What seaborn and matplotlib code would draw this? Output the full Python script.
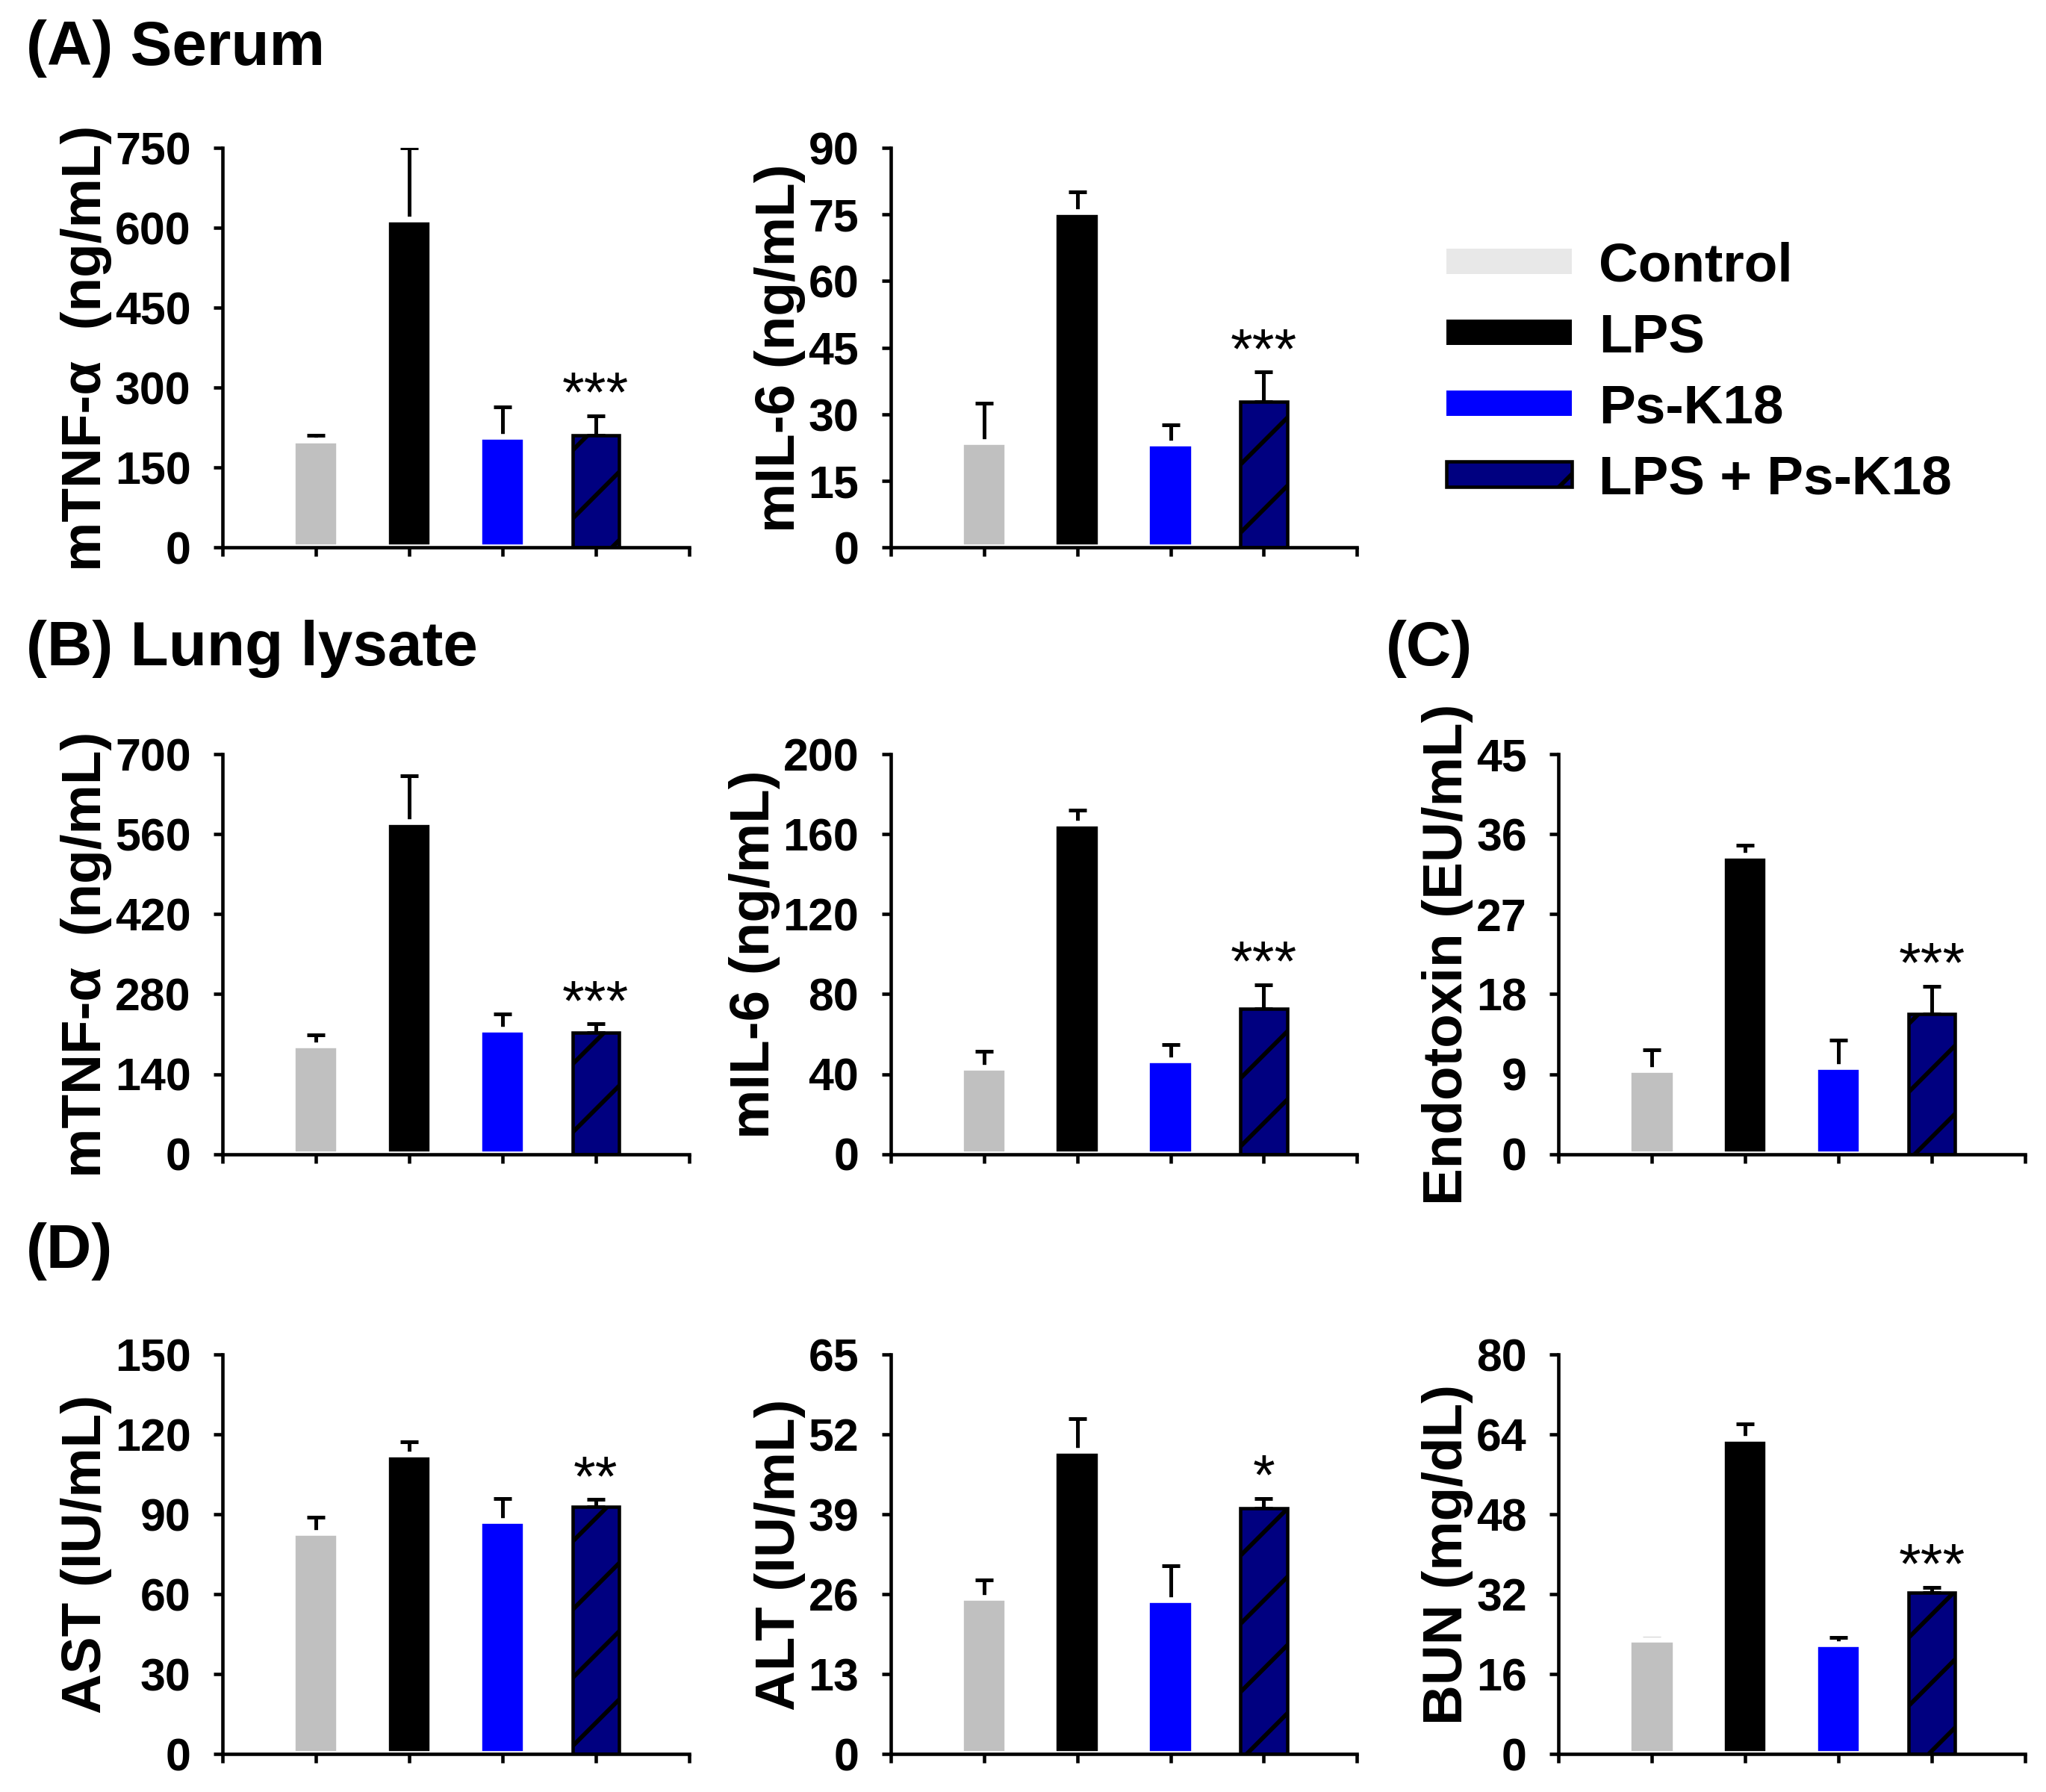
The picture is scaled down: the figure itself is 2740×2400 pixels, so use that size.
import numpy as np
import pandas as pd
import matplotlib
matplotlib.use("Agg")
import matplotlib.pyplot as plt
from matplotlib.patches import Patch
import seaborn as sns

sns.set_style("ticks")
plt.rcParams["font.family"] = ["Liberation Sans", "DejaVu Sans"]
plt.rcParams["font.weight"] = "bold"
plt.rcParams["text.color"] = "black"
plt.rcParams["axes.labelcolor"] = "black"
plt.rcParams["axes.edgecolor"] = "black"
plt.rcParams["xtick.color"] = "black"
plt.rcParams["ytick.color"] = "black"
plt.rcParams["axes.linewidth"] = 0.6
plt.rcParams["xtick.major.width"] = 0.6
plt.rcParams["ytick.major.width"] = 0.6
plt.rcParams["xtick.major.size"] = 1.6
plt.rcParams["ytick.major.size"] = 1.6
plt.rcParams["xtick.direction"] = "out"
plt.rcParams["ytick.direction"] = "out"
plt.rcParams["ytick.major.pad"] = 4
plt.rcParams["hatch.color"] = "black"
plt.rcParams["hatch.linewidth"] = 0.75

groups = ["Control", "LPS", "Ps-K18", "LPS + Ps-K18"]
bar_colors = ["#c0c0c0", "#000000", "#0000ff", "#000080"]
legend_colors = ["#e8e8e8", "#000000", "#0000ff", "#000080"]

# mean values and upper error (SEM) per panel
serum_tnf = [200, 615, 208, 210]
serum_tnf_err = [11, 135, 56, 37]
serum_il6 = [23.8, 75.5, 23.4, 32.8]
serum_il6_err = [8.7, 4.5, 4.2, 6.7]
lung_tnf = [191, 582, 218, 213]
lung_tnf_err = [18, 80, 27, 15]
lung_il6 = [43.1, 165.4, 46.9, 72.6]
lung_il6_err = [8.3, 6.8, 7.9, 12.1]
endotoxin = [9.5, 33.6, 9.8, 15.8]
endotoxin_err = [2.2, 1.2, 3.0, 3.1]
ast = [83.1, 112.4, 87.5, 92.7]
ast_err = [5.8, 4.9, 8.4, 2.8]
alt = [25.4, 49.3, 25.0, 40.0]
alt_err = [2.9, 5.3, 5.6, 1.6]
bun = [22.9, 63.1, 22.0, 32.3]
bun_err = [0.35, 3.0, 1.4, 1.1]

ylabels = ["mTNF-\u03b1  (ng/mL)", "mIL-6 (ng/mL)", "mTNF-\u03b1  (ng/mL)", "mIL-6 (ng/mL)",
           "Endotoxin (EU/mL)", "AST (IU/mL)", "ALT (IU/mL)", "BUN (mg/dL)"]
ymax = [750, 90, 700, 200, 45, 150, 65, 80]
ystep = [150, 15, 140, 40, 9, 30, 13, 16]
stars = ["***", "***", "***", "***", "***", "**", "*", "***"]
means = [serum_tnf, serum_il6, lung_tnf, lung_il6, endotoxin, ast, alt, bun]
errs = [serum_tnf_err, serum_il6_err, lung_tnf_err, lung_il6_err,
        endotoxin_err, ast_err, alt_err, bun_err]

# panel grid slots (row, col)
slots = [(0, 0), (0, 1), (1, 0), (1, 1), (1, 2), (2, 0), (2, 1), (2, 2)]

W, H = 1562.0, 1368.0
col_left = [170 / W, 680 / W, 1190 / W]
ax_w = 356 / W
row_bottom = [1 - 418 / H, 1 - 881 / H, 1 - 1339 / H]
ax_h = 305 / H

fig = plt.figure(figsize=(5.0, 4.38), dpi=548)

for i in range(8):
    r, c = slots[i]
    ax = fig.add_axes([col_left[c], row_bottom[r], ax_w, ax_h])
    df = pd.DataFrame({"group": groups, "value": means[i], "err": errs[i]})
    sns.barplot(data=df, x="group", y="value", hue="group", order=groups,
                hue_order=groups, palette=bar_colors, width=0.5, saturation=1,
                errorbar=None, legend=False, ax=ax, zorder=2)
    for bar in ax.containers[-1]:
        bar.set_hatch("//")
        bar.set_edgecolor("black")
        bar.set_linewidth(0.6)
    # error bars sit behind the bars so only the upper half shows
    ax.errorbar(x=np.arange(4), y=df["value"], yerr=[np.zeros(4), df["err"]],
                fmt="none", ecolor="black", elinewidth=0.65, capsize=1.6,
                capthick=0.65, zorder=1)
    top = df["value"].iloc[3] + df["err"].iloc[3]
    ax.text(3, top + 0.012 * ymax[i], stars[i], ha="center", va="baseline",
            fontsize=10, fontweight="normal")
    ax.set_xlim(-1, 4)
    ax.set_xticks([-1, 0, 1, 2, 3, 4])
    ax.set_xticklabels([])
    ax.set_xlabel("")
    ax.set_ylim(0, ymax[i])
    ax.set_yticks(np.arange(0, ymax[i] + ystep[i] / 2, ystep[i]))
    ax.tick_params(axis="y", labelsize=8)
    for lab in ax.get_yticklabels():
        lab.set_fontweight("bold")
    ax.set_ylabel(ylabels[i], fontsize=9.8, fontweight="bold", labelpad=0.5)
    sns.despine(ax=ax)

fig.text(20 / W, 1 - 37 / H, "(A) Serum", ha="left", va="center", fontsize=11, fontweight="bold")
fig.text(20 / W, 1 - 495 / H, "(B) Lung lysate", ha="left", va="center", fontsize=11, fontweight="bold")
fig.text(1058 / W, 1 - 495 / H, "(C)", ha="left", va="center", fontsize=11, fontweight="bold")
fig.text(20 / W, 1 - 955 / H, "(D)", ha="left", va="center", fontsize=11, fontweight="bold")

handles = []
for g, col in zip(groups, legend_colors):
    if g == "LPS + Ps-K18":
        handles.append(Patch(facecolor=col, edgecolor="black", linewidth=0.6, hatch="/", label=g))
    else:
        handles.append(Patch(facecolor=col, edgecolor="none", label=g))
fig.legend(handles=handles, loc="center left", bbox_to_anchor=(1104 / W, 1 - 285 / H),
           frameon=False, borderpad=0, borderaxespad=0, handlelength=2.3,
           handleheight=0.35, handletextpad=0.5, labelspacing=0.37,
           prop={"size": 9.6, "weight": "bold"})

fig.savefig("out.png", dpi=548)
